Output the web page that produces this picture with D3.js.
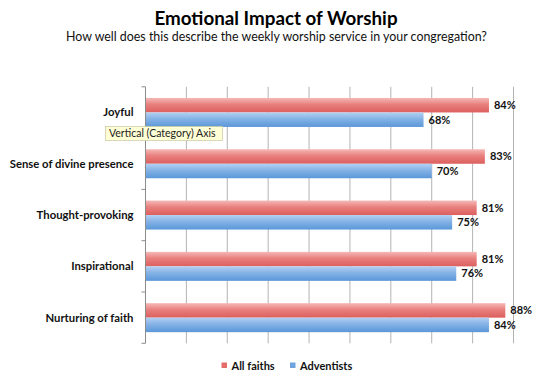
<!DOCTYPE html>
<html>
<head>
<meta charset="utf-8">
<script src="https://cdn.jsdelivr.net/npm/d3@7"></script>
<style>
  html, body { margin: 0; padding: 0; background: #fff; }
  svg { display: block; font-family: Lato, "Open Sans", sans-serif; }
</style>
</head>
<body>
<div id="chart"></div>
<script>
const categories = ["Joyful", "Sense of divine presence", "Thought-provoking", "Inspirational", "Nurturing of faith"];
const seriesNames = ["All faiths", "Adventists"];
const allFaiths = [84, 83, 81, 81, 88];
const adventists = [68, 70, 75, 76, 84];
const gridTicks = [0, 10, 20, 30, 40, 50, 60, 70, 80, 90];
const title = "Emotional Impact of Worship";
const subtitle = "How well does this describe the weekly worship service in your congregation?";
const tooltipText = "Vertical (Category) Axis";

const W = 538, H = 389;
const svg = d3.select("#chart").append("svg").attr("width", W).attr("height", H);

const defs = svg.append("defs");
function grad(id, stops) {
  const g = defs.append("linearGradient").attr("id", id).attr("x1", 0).attr("y1", 0).attr("x2", 0).attr("y2", 1);
  stops.forEach(s => g.append("stop").attr("offset", s[0]).attr("stop-color", s[1]));
}
grad("gRed", [[0, "#f6b8b6"], [0.45, "#e8807e"], [1, "#dc5f5d"]]);
grad("gBlue", [[0, "#b4d0f2"], [0.45, "#84b2e6"], [1, "#5a97d8"]]);
const fills = ["url(#gRed)", "url(#gBlue)"];
const legendColors = ["#e46c6a", "#6fa3dd"];

const x = d3.scaleLinear().domain([0, 90]).range([145.5, 513.5]);
const y = d3.scaleBand().domain(categories).range([86.8, 343.3]).paddingInner(0).paddingOuter(0);
const barH = 14.5;

// gridlines
svg.append("g").selectAll("line").data(gridTicks.slice(1)).join("line")
  .attr("x1", d => x(d)).attr("x2", d => x(d))
  .attr("y1", y.range()[0]).attr("y2", y.range()[1])
  .attr("stroke", "#b3b3b3").attr("stroke-width", 1);

// category axis
const yAxis = d3.axisLeft(y).tickSize(0).tickFormat("");
const ax = svg.append("g").attr("transform", `translate(${x(0)},0)`).call(yAxis);
ax.select(".domain").attr("stroke", "#8c8c8c").attr("d", `M0,${y.range()[0]}V${y.range()[1]}`);
// boundary ticks
const bounds = categories.map(c => y(c)).concat([y.range()[1]]);
svg.append("g").selectAll("line").data(bounds).join("line")
  .attr("x1", x(0) - 4).attr("x2", x(0))
  .attr("y1", d => d).attr("y2", d => d)
  .attr("stroke", "#8c8c8c");

// category labels
svg.append("g").selectAll("text").data(categories).join("text")
  .attr("x", 133.5).attr("y", d => y(d) + y.bandwidth() / 2)
  .attr("text-anchor", "end").attr("dy", "0.35em")
  .attr("font-size", 11.3).attr("font-weight", "bold").attr("fill", "#111")
  .text(d => d);

// bars
const series = [allFaiths, adventists];
series.forEach((vals, si) => {
  const g = svg.append("g");
  const data = categories.map((c, i) => ({c, v: vals[i]}));
  g.selectAll("rect").data(data).join("rect")
    .attr("x", x(0) + 0.5)
    .attr("y", d => y(d.c) + y.bandwidth() / 2 - barH + si * barH)
    .attr("width", d => x(d.v) - x(0) - 0.5)
    .attr("height", barH)
    .attr("fill", fills[si]);
  g.selectAll("text").data(data).join("text")
    .attr("x", d => x(d.v) + 5)
    .attr("y", d => y(d.c) + y.bandwidth() / 2 - barH + si * barH + barH / 2)
    .attr("dy", "0.35em")
    .attr("font-size", 11).attr("font-weight", "bold").attr("fill", "#111")
    .text(d => d.v + "%");
});

// title
svg.append("text").attr("x", 276).attr("y", 25).attr("text-anchor", "middle")
  .attr("font-size", 18.8).attr("font-weight", "bold").attr("fill", "#000").text(title);
svg.append("text").attr("x", 276.5).attr("y", 41).attr("text-anchor", "middle")
  .attr("font-size", 12.4).attr("fill", "#111").text(subtitle);

// legend
const legendX = [221.5, 290];
seriesNames.forEach((n, i) => {
  svg.append("rect").attr("x", legendX[i]).attr("y", 362.5).attr("width", 5.5).attr("height", 5.5).attr("fill", legendColors[i]);
  svg.append("text").attr("x", legendX[i] + 10).attr("y", 366).attr("dy", "0.35em")
    .attr("font-size", 11).attr("font-weight", "bold").attr("fill", "#111").text(n);
});

// tooltip
const tt = svg.append("g");
tt.append("rect").attr("x", 105.5).attr("y", 126.5).attr("width", 117).attr("height", 14)
  .attr("fill", "#ffffd6").attr("stroke", "#c8c8a0").attr("stroke-width", 0.7);
tt.append("text").attr("x", 109).attr("y", 133.7).attr("dy", "0.35em")
  .attr("font-size", 10.5).attr("fill", "#222").text(tooltipText);
</script>
</body>
</html>
